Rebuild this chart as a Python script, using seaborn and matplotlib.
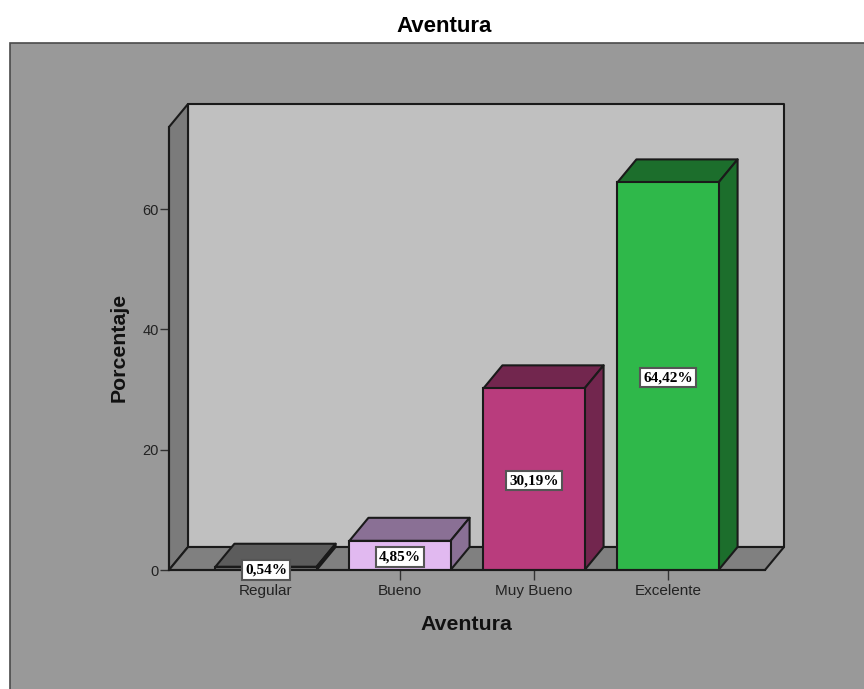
import matplotlib
matplotlib.use("Agg")
import matplotlib.pyplot as plt
from matplotlib.patches import Polygon, Rectangle
import pandas as pd
import seaborn as sns

# values
categorias = ["Regular", "Bueno", "Muy Bueno", "Excelente"]
porcentajes = [0.54, 4.85, 30.19, 64.42]
etiquetas = ["0,54%", "4,85%", "30,19%", "64,42%"]
colores = ["#6a6a6a", "#e1b9f0", "#b93c7d", "#2fb84a"]
colores_top = ["#5c5c5c", "#8a7095", "#72264e", "#1c6e2c"]
colores_lado = ["#333333", "#8a7095", "#72264e", "#1c6e2c"]
yticks = [0, 20, 40, 60]

W, H = 864, 689
LEFT, RIGHT, BOTTOM, TOP = 169, 765, 570, 127
DEPTH_X, DEPTH_Y = 19, 23   # 3d offset in pixels
LINE = "#1a1a1a"

sns.set_theme(style="white")
plt.rcParams["font.family"] = ["Liberation Sans", "DejaVu Sans"]

fig = plt.figure(figsize=(W / 100, H / 100), dpi=100, facecolor="white")
ax = fig.add_axes([LEFT / W, 1 - BOTTOM / H, (RIGHT - LEFT) / W, (BOTTOM - TOP) / H])
ax.patch.set_visible(False)

# grey panel behind the chart
fig.add_artist(Rectangle((10 / W, -0.01), 1.0, 1 - 43 / H + 0.01, transform=fig.transFigure,
                         facecolor="#999999", edgecolor="#4a4a4a", linewidth=1.2, zorder=-5))

df = pd.DataFrame({"categoria": categorias, "porcentaje": porcentajes})
sns.barplot(data=df, x="categoria", y="porcentaje", hue="categoria", order=categorias,
            hue_order=categorias, palette=colores, dodge=False, legend=False, width=0.755,
            edgecolor=LINE, linewidth=1.5, saturation=1, zorder=4, ax=ax)

ax.set_xlim(-97 / 134, 499 / 134)
ymax = (BOTTOM - TOP) / (361 / 60)
ax.set_ylim(0, ymax)

# depth in data units
dx = DEPTH_X * (ax.get_xlim()[1] - ax.get_xlim()[0]) / (RIGHT - LEFT)
dy = DEPTH_Y * ymax / (BOTTOM - TOP)
x0, x1 = ax.get_xlim()


def cara(puntos, color, z=2):
    ax.add_patch(Polygon(puntos, closed=True, facecolor=color, edgecolor=LINE,
                         linewidth=1.5, clip_on=False, zorder=z, joinstyle="round"))


# walls and floor
cara([(x0 + dx, dy), (x1 + dx, dy), (x1 + dx, ymax + dy), (x0 + dx, ymax + dy)], "#c0c0c0", 1)
cara([(x0, 0), (x0 + dx, dy), (x0 + dx, ymax + dy), (x0, ymax)], "#7b7b7b", 1.5)
cara([(x0, 0), (x1, 0), (x1 + dx, dy), (x0 + dx, dy)], "#808080", 1.5)

# sides and tops of the bars, then the value labels
for bar, top, lado, txt in zip(ax.patches[:4], colores_top, colores_lado, etiquetas):
    a, b = bar.get_x(), bar.get_x() + bar.get_width()
    h = bar.get_height()
    cara([(a, h), (b, h), (b + dx, h + dy), (a + dx, h + dy)], top, 3)
    cara([(b, 0), (b + dx, dy), (b + dx, h + dy), (b, h)], lado, 3)
    ax.annotate(txt, ((a + b) / 2, h / 2), xytext=(0, -1), textcoords="offset points",
                ha="center", va="center", fontsize=11, fontweight="bold",
                family="Liberation Serif", color="black", zorder=6, annotation_clip=False,
                bbox=dict(boxstyle="square,pad=0.22", facecolor="white", edgecolor="#555555", linewidth=1.5))

for lado in ["top", "right"]:
    ax.spines[lado].set_visible(False)
for lado in ["left", "bottom"]:
    ax.spines[lado].set_color(LINE)
    ax.spines[lado].set_linewidth(1.5)
    ax.spines[lado].set_zorder(5)

ax.set_yticks(yticks)
ax.tick_params(axis="x", bottom=True, length=7, width=1, color="#333333",
               labelcolor="#222222", labelsize=11, pad=3)
ax.tick_params(axis="y", left=True, length=6.5, width=1, color="#333333",
               labelcolor="#222222", labelsize=10.5, pad=1)
ax.set_xlabel("")
ax.set_ylabel("")

fig.text(444 / W, 1 - 27 / H, "Aventura", ha="center", va="center", fontsize=16,
         fontweight="bold", color="black")
fig.text(119 / W, 1 - 347 / H, "Porcentaje", ha="center", va="center", rotation=90,
         fontsize=15.3, fontweight="bold", color="#111111")
fig.text(466.5 / W, 1 - 625 / H, "Aventura", ha="center", va="center", fontsize=15.3,
         fontweight="bold", color="#111111")

fig.savefig("out.png", dpi=100)
